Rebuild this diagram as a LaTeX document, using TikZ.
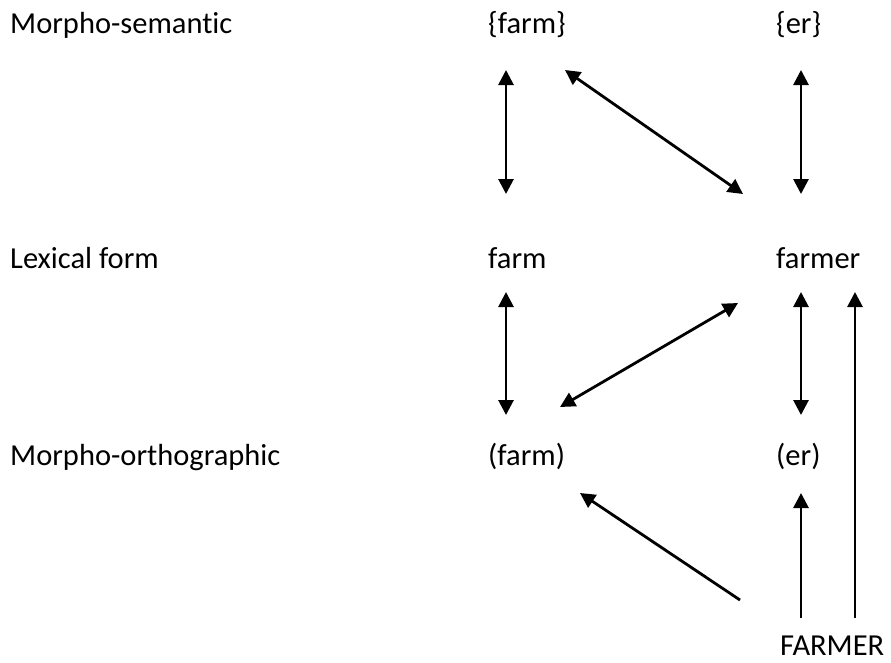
\documentclass[tikz,border=0pt]{standalone}
\usepackage{fontspec}
\setmainfont{Carlito}[Ligatures=NoCommon]
\usetikzlibrary{arrows.meta}
\begin{document}
\begin{tikzpicture}[x=1pt,y=-1pt,
  txt/.style={anchor=base west,inner sep=0pt,font=\fontsize{30.5}{36}\selectfont},
  link/.style={line width=2.8pt,{Triangle[length=15pt,width=15pt]}-{Triangle[length=15pt,width=15pt]}},
  onedir/.style={line width=2.8pt,-{Triangle[length=15pt,width=15pt]}}]
\useasboundingbox (0,0) rectangle (891,662);
% level labels
\node[txt] (ms) at (10,33) {Morpho-semantic};
\node[txt] (lf) at (10,268) {Lexical form};
\node[txt] (mo) at (10,465) {Morpho-orthographic};
% units
\node[txt] (farmS) at (488,33) {\{farm\}};
\node[txt] (erS) at (776,33) {\{er\}};
\node[txt] (farmL) at (488,268) {farm};
\node[txt] (farmerL) at (776,268) {farmer};
\node[txt] (farmO) at (488,465) {(farm)};
\node[txt] (erO) at (776,465) {(er)};
\node[txt] (word) at (780,655) {FARMER};
% arrow end points
\coordinate (a1) at (506,70);  \coordinate (a2) at (506,194);
\coordinate (b1) at (565,70);  \coordinate (b2) at (743,194);
\coordinate (c1) at (801,70);  \coordinate (c2) at (801,194);
\coordinate (d1) at (506,292); \coordinate (d2) at (506,415);
\coordinate (e1) at (560,407); \coordinate (e2) at (738,303);
\coordinate (f1) at (801,292); \coordinate (f2) at (801,415);
\coordinate (g1) at (855,618); \coordinate (g2) at (855,292);
\coordinate (h1) at (801,618); \coordinate (h2) at (801,493);
\coordinate (i1) at (740,600); \coordinate (i2) at (580,493);
% connectors
\draw[link] (a1) -- (a2);
\draw[link] (b1) -- (b2);
\draw[link] (c1) -- (c2);
\draw[link] (d1) -- (d2);
\draw[link] (e1) -- (e2);
\draw[link] (f1) -- (f2);
\draw[onedir] (g1) -- (g2);
\draw[onedir] (h1) -- (h2);
\draw[onedir] (i1) -- (i2);
\end{tikzpicture}
\end{document}
